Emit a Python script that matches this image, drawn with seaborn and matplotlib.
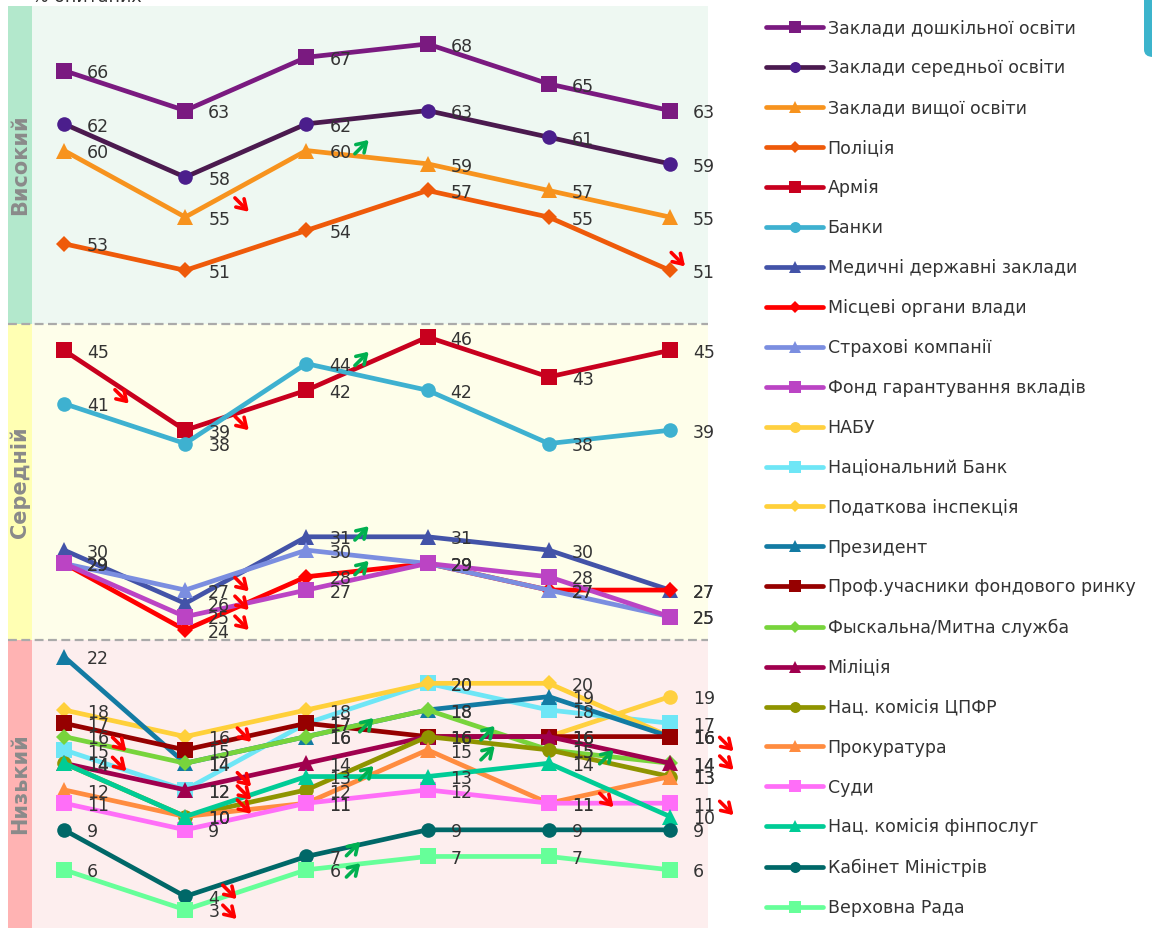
import numpy as np
import matplotlib
matplotlib.use("Agg")
import matplotlib.pyplot as plt
import seaborn as sns
from matplotlib.patches import Rectangle, FancyBboxPatch

# ---------------- data ----------------
waves = [0, 1, 2, 3, 4, 5]

series_names = [
    "Заклади дошкільної освіти", "Заклади середньої освіти", "Заклади вищої освіти",
    "Поліція", "Армія", "Банки", "Медичні державні заклади", "Місцеві органи влади",
    "Страхові компанії", "Фонд гарантування вкладів", "НАБУ", "Національний Банк",
    "Податкова інспекція", "Президент", "Проф.учасники фондового ринку",
    "Фыскальна/Митна служба", "Міліція", "Нац. комісія ЦПФР", "Прокуратура", "Суди",
    "Нац. комісія фінпослуг", "Кабінет Міністрів", "Верховна Рада",
]

v_doshk = [66, 63, 67, 68, 65, 63]
v_seredn = [62, 58, 62, 63, 61, 59]
v_vyshch = [60, 55, 60, 59, 57, 55]
v_police = [53, 51, 54, 57, 55, 51]
v_army = [45, 39, 42, 46, 43, 45]
v_banks = [41, 38, 44, 42, 38, 39]
v_medical = [30, 26, 31, 31, 30, 27]
v_local = [29, 24, 28, 29, 27, 27]
v_insur = [29, 27, 30, 29, 27, 25]
v_fund = [29, 25, 27, 29, 28, 25]
v_nabu = [np.nan, np.nan, np.nan, np.nan, 16, 19]
v_natbank = [15, 12, 17, 20, 18, 17]
v_tax = [18, 16, 18, 20, 20, 16]
v_president = [22, 14, 16, 18, 19, 16]
v_prof = [17, 15, 17, 16, 16, 16]
v_fiscal = [16, 14, 16, 18, 15, 14]
v_militia = [14, 12, 14, 16, 16, 14]
v_cpfr = [14, 10, 12, 16, 15, 13]
v_prosec = [12, 10, 11, 15, 11, 13]
v_courts = [11, 9, 11, 12, 11, 11]
v_finpos = [14, 10, 13, 13, 14, 10]
v_cabmin = [9, 4, 7, 9, 9, 9]
v_rada = [6, 3, 6, 7, 7, 6]

all_values = [v_doshk, v_seredn, v_vyshch, v_police, v_army, v_banks, v_medical,
              v_local, v_insur, v_fund, v_nabu, v_natbank, v_tax, v_president,
              v_prof, v_fiscal, v_militia, v_cpfr, v_prosec, v_courts, v_finpos,
              v_cabmin, v_rada]

band_names = ["Високий", "Середній", "Низький"]

# significance arrows: (series, wave index, direction)
arrow_marks = [
    ("Заклади вищої освіти", 1, "down"), ("Заклади вищої освіти", 2, "up"),
    ("Поліція", 5, "down"), ("Банки", 0, "down"), ("Армія", 1, "down"),
    ("Банки", 2, "up"), ("Страхові компанії", 1, "down"),
    ("Медичні державні заклади", 1, "down"), ("Місцеві органи влади", 1, "down"),
    ("Медичні державні заклади", 2, "up"), ("Місцеві органи влади", 2, "up"),
    ("Національний Банк", 0, "down"), ("Міліція", 0, "down"),
    ("Податкова інспекція", 1, "down"), ("Міліція", 1, "down"),
    ("Нац. комісія ЦПФР", 1, "down"), ("Нац. комісія фінпослуг", 1, "down"),
    ("Кабінет Міністрів", 1, "down"), ("Верховна Рада", 1, "down"),
    ("Кабінет Міністрів", 2, "up"), ("Верховна Рада", 2, "up"),
    ("Національний Банк", 2, "up"), ("Нац. комісія фінпослуг", 2, "up"),
    ("Міліція", 3, "up"), ("Прокуратура", 3, "up"),
    ("Нац. комісія фінпослуг", 4, "up"), ("Прокуратура", 4, "down"),
    ("Президент", 5, "down"), ("Міліція", 5, "down"),
    ("Нац. комісія фінпослуг", 5, "down"),
]

# ---------------- styles ----------------
colors = ["#7a1a80", "#4b1a4f", "#f7931e", "#ee5a0a", "#c8001e", "#3eb1d0", "#4353a8",
          "#ff0000", "#7b8ee0", "#bb44c4", "#ffd040", "#6ee6f6", "#ffd03a", "#137ba3",
          "#960000", "#78d43c", "#a0004e", "#8f9400", "#ff8c40", "#ff6ef8", "#00cc96",
          "#006868", "#66ff99"]
face_override = {"Заклади середньої освіти": "#4b1e8c"}
markers = ["s", "o", "^", "D", "s", "o", "^", "D", "^", "s", "o", "s", "D", "^", "s",
           "D", "^", "o", "^", "s", "^", "o", "s"]
msize = {"s": 11, "o": 10.5, "^": 11.5, "D": 8.5}

# arrow offsets (styling) keyed by (series, wave)
arrow_offset = {
    ("Заклади вищої освіти", 1): (0.47, 0.9), ("Заклади вищої освіти", 2): (0.46, 0.3),
    ("Поліція", 5): (0.07, 0.8), ("Банки", 0): (0.48, 0.5), ("Армія", 1): (0.47, 0.5),
    ("Банки", 2): (0.46, 0.4), ("Страхові компанії", 1): (0.47, 0.4),
    ("Медичні державні заклади", 1): (0.47, 0.0), ("Місцеві органи влади", 1): (0.47, 0.5),
    ("Медичні державні заклади", 2): (0.46, 0.3), ("Місцеві органи влади", 2): (0.46, 0.7),
    ("Національний Банк", 0): (0.46, 0.4), ("Міліція", 0): (0.46, -0.1),
    ("Податкова інспекція", 1): (0.49, 0.1), ("Міліція", 1): (0.49, 0.75),
    ("Нац. комісія ЦПФР", 1): (0.49, 1.75), ("Нац. комісія фінпослуг", 1): (0.49, 0.7),
    ("Кабінет Міністрів", 1): (0.37, 0.3), ("Верховна Рада", 1): (0.37, -0.2),
    ("Кабінет Міністрів", 2): (0.39, 0.6), ("Верховна Рада", 2): (0.39, 0.0),
    ("Національний Банк", 2): (0.50, -0.1), ("Нац. комісія фінпослуг", 2): (0.50, 0.3),
    ("Міліція", 3): (0.50, 0.3), ("Прокуратура", 3): (0.50, -0.2),
    ("Нац. комісія фінпослуг", 4): (0.48, 0.5), ("Прокуратура", 4): (0.48, 0.2),
    ("Президент", 5): (0.47, -0.6), ("Міліція", 5): (0.47, 0.0),
    ("Нац. комісія фінпослуг", 5): (0.47, 0.6),
}

sns.set_style("white")
plt.rcParams["font.family"] = ["DejaVu Sans"]

W, H = 1152, 934
fig = plt.figure(figsize=(W / 100, H / 100), dpi=100)
ax = fig.add_axes([8 / W, 1 - 928 / H, 700 / W, 922 / H])

XL, XR = -0.462, 5.314
XS = -0.264
YB, YT = 1.63, 70.85
B1, B2 = 23.25, 47.0
ax.set_xlim(XL, XR)
ax.set_ylim(YB, YT)

bands = [(B2, YT, "#eef8f2", "#b3e8cc"), (B1, B2, "#fefeea", "#ffffb3"),
         (YB, B1, "#fdeeee", "#ffb3b3")]
for (lo, hi, bg, strip), name in zip(bands, band_names):
    ax.add_patch(Rectangle((XS, lo), XR - XS, hi - lo, color=bg, lw=0, zorder=0))
    ax.add_patch(Rectangle((XL, lo), XS - XL, hi - lo, color=strip, lw=0, zorder=0))
    ax.text((XL + XS) / 2, (lo + hi) / 2, name, rotation=90, ha="center", va="center",
            fontsize=15, fontweight="bold", color="#8a8a8a", zorder=1)
for b in (B1, B2):
    ax.axhline(b, color="#aaaaaa", lw=1.6, ls=(0, (4, 2)), zorder=1)

for name, vals, col, mk in zip(series_names, all_values, colors, markers):
    fc = face_override.get(name, col)
    sns.lineplot(x=waves, y=vals, ax=ax, color=col, marker=mk, markersize=msize[mk],
                 markerfacecolor=fc, markeredgecolor=fc, markeredgewidth=0,
                 linewidth=3.4, label=name, zorder=3)

for name, vals in zip(series_names, all_values):
    for i, v in zip(waves, vals):
        if np.isnan(v):
            continue
        ax.text(i + 0.19, v - 0.2, f"{v:g}", ha="left", va="center", fontsize=12.5,
                color="#333333", zorder=5)

# arrow glyph size: half-diagonal in data units (~7 px) and tail offset in points
HX, HY = 0.055, 0.5
val_lookup = dict(zip(series_names, all_values))
for name, i, d in arrow_marks:
    dx, dy = arrow_offset[(name, i)]
    v = val_lookup[name][i]
    cx, cy = i + dx, v + dy
    if d == "down":
        tip, tail, col = (cx + HX, cy - HY), (-10, 10), "#ff0000"
    else:
        tip, tail, col = (cx + HX, cy + HY), (-10, -10), "#00b050"
    ax.annotate("", xy=tip, xycoords="data", xytext=tail, textcoords="offset points",
                arrowprops=dict(arrowstyle="->,head_length=0.55,head_width=0.35",
                                lw=2.6, color=col, shrinkA=0, shrinkB=0,
                                mutation_scale=12),
                annotation_clip=False, zorder=6)

ax.set_xticks([])
ax.set_yticks([])
for s in ax.spines.values():
    s.set_visible(False)
ax.set_xlabel("")
ax.set_ylabel("")

handles, labels = ax.get_legend_handles_labels()
leg = ax.legend(handles, labels, loc="upper left", bbox_to_anchor=(766 / W, 1 - 19 / H),
                bbox_transform=fig.transFigure, frameon=False, fontsize=12.5,
                handlelength=3.3, handletextpad=0.25, labelspacing=1.265,
                borderpad=0, borderaxespad=0, markerscale=0.75)
for t in leg.get_texts():
    t.set_color("#333333")

fig.text(32 / W, 1 - 2 / H, "% опитаних", fontsize=12.5, color="#333333",
         ha="left", va="baseline")
fig.patches.append(FancyBboxPatch((1144 / W, 1 - 57 / H), 30 / W, 80 / H,
                                  boxstyle="round,pad=0,rounding_size=0.008",
                                  transform=fig.transFigure, color="#3cb4cc", lw=0))

fig.savefig("out.png", dpi=100)
